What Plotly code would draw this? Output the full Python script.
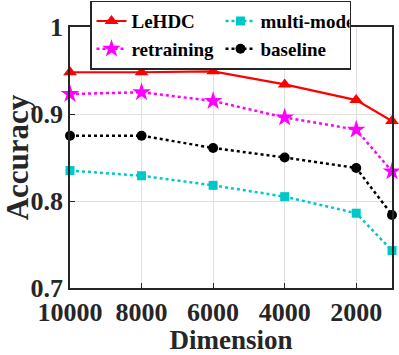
import plotly.graph_objects as go

dimension = [10000, 8000, 6000, 4000, 2000, 1000]
lehdc = [0.948, 0.948, 0.949, 0.934, 0.916, 0.892]
retraining = [0.923, 0.925, 0.915, 0.896, 0.882, 0.834]
multi_model = [0.835, 0.829, 0.818, 0.805, 0.786, 0.743]
baseline = [0.875, 0.875, 0.861, 0.850, 0.838, 0.784]
x_ticks = [10000, 8000, 6000, 4000, 2000]
y_ticks = [0.7, 0.8, 0.9, 1.0]
y_tick_text = ["0.7", "0.8", "0.9", "1"]

FONT = "Liberation Serif"

def b(s):
    return "<b>" + s + "</b>"

fig = go.Figure()
fig.add_trace(go.Scatter(x=dimension, y=lehdc, name=b("LeHDC"), mode="lines+markers",
                         line=dict(color="#ff0000", width=2.2), cliponaxis=False,
                         marker=dict(symbol="triangle-up", size=12, color="#ff0000")))
fig.add_trace(go.Scatter(x=dimension, y=multi_model, name=b("multi-model"), mode="lines+markers",
                         line=dict(color="#00c8c8", width=2.5, dash="dot"), cliponaxis=False,
                         marker=dict(symbol="square", size=9, color="#00c8c8")))
fig.add_trace(go.Scatter(x=dimension, y=retraining, name=b("retraining"), mode="lines+markers",
                         line=dict(color="#ff00ff", width=2.5, dash="dot"), cliponaxis=False,
                         marker=dict(symbol="star", size=14, color="#ff00ff")))
fig.add_trace(go.Scatter(x=dimension, y=baseline, name=b("baseline"), mode="lines+markers",
                         line=dict(color="#000000", width=2.5, dash="dot"), cliponaxis=False,
                         marker=dict(symbol="circle", size=10, color="#000000")))

axis_common = dict(showline=True, linecolor="#262626", linewidth=1.5, mirror=True,
                   ticks="inside", ticklen=5, tickcolor="#262626", automargin=False,
                   showgrid=True, gridcolor="#e0e0e0", gridwidth=1, zeroline=False,
                   tickfont=dict(family=FONT, size=26, color="#262626"))

fig.update_layout(
    width=399, height=355,
    margin=dict(l=70, r=7, t=27, b=67, autoexpand=False),
    paper_bgcolor="white", plot_bgcolor="white",
    font=dict(family=FONT, color="#262626"),
    xaxis=dict(range=[10000, 1000], tickvals=x_ticks,
               ticktext=[b(str(v)) for v in x_ticks],
               title=dict(text=b("Dimension"), font=dict(family=FONT, size=27), standoff=6),
               **axis_common),
    yaxis=dict(range=[0.7, 1.0], tickvals=y_ticks,
               ticktext=[b(t) for t in y_tick_text],
               title=dict(text=b("Accuracy"), font=dict(family=FONT, size=31), standoff=2),
               **axis_common),
    legend=dict(orientation="h", x=20/322, y=1.101, xref="paper", yref="paper",
                xanchor="left", yanchor="top",
                entrywidth=84, traceorder="normal",
                font=dict(family=FONT, size=19, color="#000000"),
                bgcolor="white", bordercolor="#262626", borderwidth=1.5,
                itemwidth=30, tracegroupgap=0),
    showlegend=True,
)

fig.write_html("out.html", config={"displayModeBar": False},
               post_script="document.body.style.margin='0';document.body.style.padding='0';")
